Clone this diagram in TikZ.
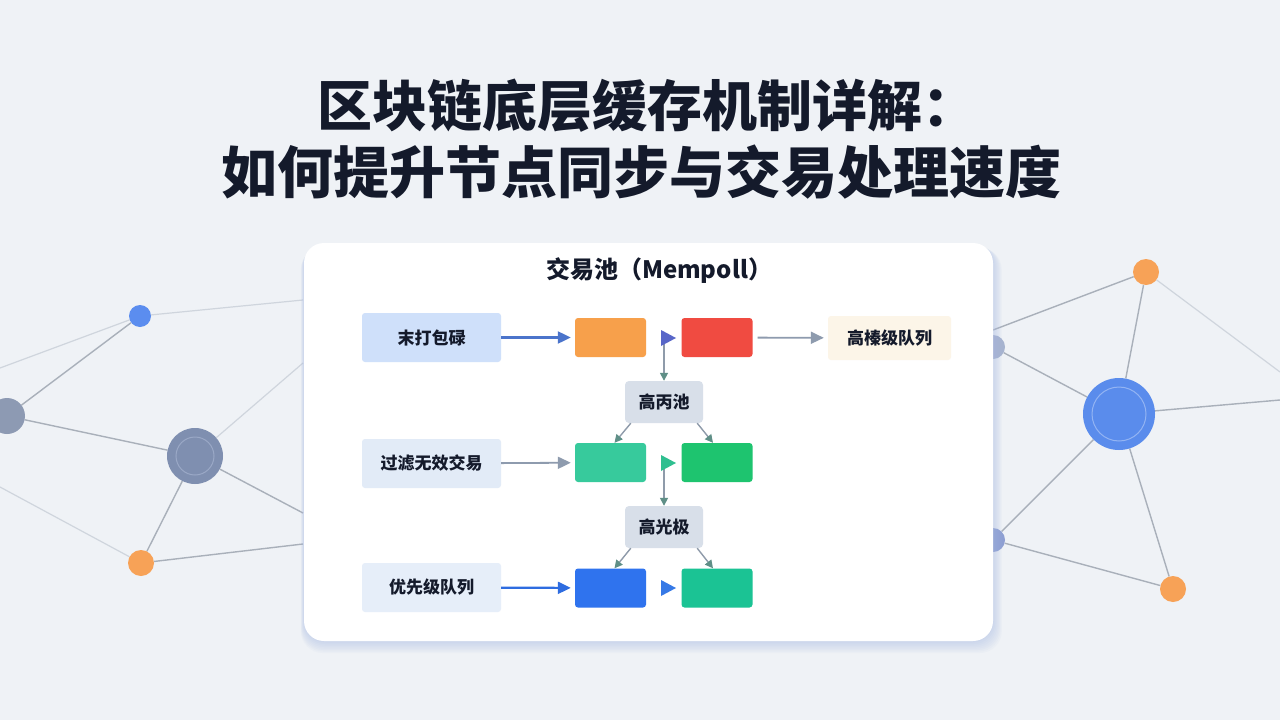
\documentclass[tikz,border=0pt]{standalone}
\usepackage{fontspec}
\newfontfamily\cjk{Noto Sans CJK SC}
\usetikzlibrary{arrows.meta}
\definecolor{bg}{HTML}{EFF2F6}
\definecolor{ink}{HTML}{141A2B}
\definecolor{edgec}{HTML}{A9B0BA}
\definecolor{edgefaint}{HTML}{CFD5DD}
\definecolor{nblue}{HTML}{5B8DEF}
\definecolor{ngray}{HTML}{8D9AB3}
\definecolor{nbig}{HTML}{7F8FB0}
\definecolor{nring}{HTML}{9AA8C6}
\definecolor{norange}{HTML}{F7A257}
\definecolor{rbig}{HTML}{5A8CEC}
\definecolor{rring}{HTML}{93B4F3}
\definecolor{rfour}{HTML}{A6B3CF}
\definecolor{rfive}{HTML}{8E9FD2}
\definecolor{shadowc}{HTML}{A9BCE4}
\definecolor{lblA}{HTML}{CFE0FA}
\definecolor{lblB}{HTML}{E2EBF7}
\definecolor{lblC}{HTML}{E6EEF9}
\definecolor{cream}{HTML}{FCF5E8}
\definecolor{slate}{HTML}{D8DFE9}
\definecolor{orangeb}{HTML}{F7A04B}
\definecolor{redb}{HTML}{F04B41}
\definecolor{greenA}{HTML}{37CA9C}
\definecolor{greenB}{HTML}{1EC46F}
\definecolor{blueb}{HTML}{2F73EE}
\definecolor{greenC}{HTML}{1BC394}
\definecolor{arrA}{HTML}{4B74CB}
\definecolor{arrG}{HTML}{8E9BAE}
\definecolor{arrC}{HTML}{2E6CE0}
\definecolor{triA}{HTML}{5866C8}
\definecolor{triB}{HTML}{2FBF90}
\definecolor{triC}{HTML}{3679E6}
\definecolor{vline}{HTML}{8F9BAA}
\definecolor{dtip}{HTML}{5F8F87}
\pgfdeclarelayer{bglayer}
\pgfdeclarelayer{edgelayer}
\pgfsetlayers{bglayer,edgelayer,main}
\tikzset{
  net/.style={draw=edgec, line width=1.4pt},
  netfaint/.style={draw=edgefaint, line width=1.2pt},
  dot/.style={circle, inner sep=0pt},
  lbl/.style={rounded corners=3pt, minimum width=139pt, minimum height=49pt, inner sep=0pt, text=ink, font=\cjk\bfseries\fontsize{17}{20}\selectfont},
  blk/.style={rounded corners=3pt, minimum width=71pt, minimum height=39pt, inner sep=0pt},
  midbox/.style={rounded corners=4pt, fill=slate, minimum width=78pt, minimum height=42pt, inner sep=0pt, text=ink, font=\cjk\bfseries\fontsize{17}{20}\selectfont},
  flow/.style={-{Triangle[length=13pt,width=12pt]}, line width=2.2pt, shorten >=4pt},
  vflow/.style={-{Triangle[length=8pt,width=8pt,color=dtip]}, draw=vline, line width=1.6pt},
  dflow/.style={-{Triangle[length=8pt,width=8pt,color=dtip]}, draw=vline, line width=1.4pt},
}
\begin{document}
\begin{tikzpicture}[x=1pt,y=-1pt]
\useasboundingbox (0,0) rectangle (1280,720);
\begin{pgfonlayer}{bglayer}
\fill[bg] (0,0) rectangle (1280,720);
\end{pgfonlayer}

% ---------- background network ----------
\node[dot, fill=nblue, minimum size=22pt] (L1) at (140,316) {};
\node[dot, fill=ngray, minimum size=36pt] (L2) at (7,416) {};
\node[dot, fill=nbig, minimum size=56pt] (L3) at (195,456) {};
\draw[nring, line width=1pt] (L3.center) circle (19pt);
\node[dot, fill=norange, minimum size=26pt] (L4) at (141,563) {};
\coordinate (La) at (303,300);
\coordinate (Lb) at (0,368);
\coordinate (Lc) at (303,363);
\coordinate (Ld) at (303,513);
\coordinate (Le) at (303,544);
\coordinate (Lf) at (0,487);

\node[dot, fill=rfour, minimum size=24pt] (R4) at (993,347) {};
\node[dot, fill=rfive, minimum size=24pt] (R5) at (993,540) {};
\node[dot, fill=norange, minimum size=26pt] (R1) at (1146,272) {};
\node[dot, fill=rbig, minimum size=72pt] (R2) at (1119,414) {};
\draw[rring, line width=1pt] (R2.center) circle (27pt);
\node[dot, fill=norange, minimum size=26pt] (R3) at (1173,589) {};
\coordinate (Ra) at (993,330);
\coordinate (Rb) at (1280,372);
\coordinate (Rc) at (1280,400);

\begin{pgfonlayer}{edgelayer}
\draw[netfaint] (L1) -- (La);
\draw[netfaint] (Lb) -- (L1);
\draw[net] (L1) -- (L2);
\draw[net] (L2) -- (L3);
\draw[netfaint] (L3) -- (Lc);
\draw[net] (L3) -- (Ld);
\draw[net] (L3) -- (L4);
\draw[net] (L4) -- (Le);
\draw[netfaint] (Lf) -- (L4);
\draw[net] (R1) -- (Ra);
\draw[net] (R1) -- (R2);
\draw[netfaint] (R1) -- (Rb);
\draw[net] (R4) -- (R2);
\draw[net] (R2) -- (Rc);
\draw[net] (R2) -- (R5);
\draw[net] (R2) -- (R3);
\draw[net] (R5) -- (R3);
\end{pgfonlayer}

% ---------- title ----------
\node[text=ink, font=\cjk\bfseries\fontsize{55}{60}\selectfont, inner sep=0pt] (t1) at (647,106) {区块链底层缓存机制详解：};
\node[text=ink, font=\cjk\bfseries\fontsize{56}{60}\selectfont, inner sep=0pt] (t2) at (641,172) {如何提升节点同步与交易处理速度};

% ---------- card ----------
\foreach \i in {1,...,8}{
  \fill[shadowc, opacity=0.07, rounded corners=22pt] ({304-\i*0.4},{243+\i*0.6}) rectangle ({993+\i*1.1},{641+\i*1.5});
}
\node[fill=white, rounded corners=20pt, minimum width=689pt, minimum height=398pt, inner sep=0pt] (card) at (648.5,442) {};
\node[text=ink, font=\cjk\bfseries\fontsize{24}{28}\selectfont, inner sep=0pt] (ctitle) at (659,271) {交易池（Mempoll）};

% ---------- row 1 ----------
\node[lbl, fill=lblA] (a1) at (431.5,337.5) {末打包碌};
\node[blk, fill=orangeb] (o1) at (610.5,337.5) {};
\node[blk, fill=redb] (r1) at (717,337.5) {};
\node[lbl, fill=cream, minimum width=123pt, minimum height=44pt] (q1) at (889.5,338) {高榛级队列};
\node[midbox] (p1) at (664,402) {高丙池};
\coordinate (c1) at (664,340);
\draw[flow, draw=arrA, fill=arrA] (a1) -- (o1);
\draw[flow, draw=arrG, fill=arrG, line width=1.8pt, shorten <=5pt] (r1) -- (q1);
\draw[vflow] (c1) -- (p1.north);
\fill[triA] (661,330) -- (676,338) -- (661,346) -- cycle;

% ---------- row 2 ----------
\node[lbl, fill=lblB] (b1) at (431.5,463.5) {过滤无效交易};
\node[blk, fill=greenA] (g1) at (610.5,462.5) {};
\node[blk, fill=greenB] (g2) at (717,462.5) {};
\node[midbox] (p2) at (664,527) {高光极};
\coordinate (c2) at (664,465);
\draw[dflow] ([xshift=6pt]p1.south west) -- ([xshift=4pt]g1.north);
\draw[dflow] ([xshift=-6pt]p1.south east) -- ([xshift=-4pt]g2.north);
\draw[flow, draw=arrG, fill=arrG, line width=1.8pt] (b1) -- (g1);
\draw[vflow] (c2) -- (p2.north);
\fill[triB] (661,455) -- (676,463) -- (661,471) -- cycle;

% ---------- row 3 ----------
\node[lbl, fill=lblC] (e1) at (431.5,587.5) {优先级队列};
\node[blk, fill=blueb] (bl) at (610.5,588) {};
\node[blk, fill=greenC] (gr) at (717,588) {};
\draw[dflow] ([xshift=6pt]p2.south west) -- ([xshift=4pt]bl.north);
\draw[dflow] ([xshift=-6pt]p2.south east) -- ([xshift=-4pt]gr.north);
\draw[flow, draw=arrC, fill=arrC] (e1) -- (bl);
\fill[triC] (661,580) -- (676,588) -- (661,596) -- cycle;
\end{tikzpicture}
\end{document}
